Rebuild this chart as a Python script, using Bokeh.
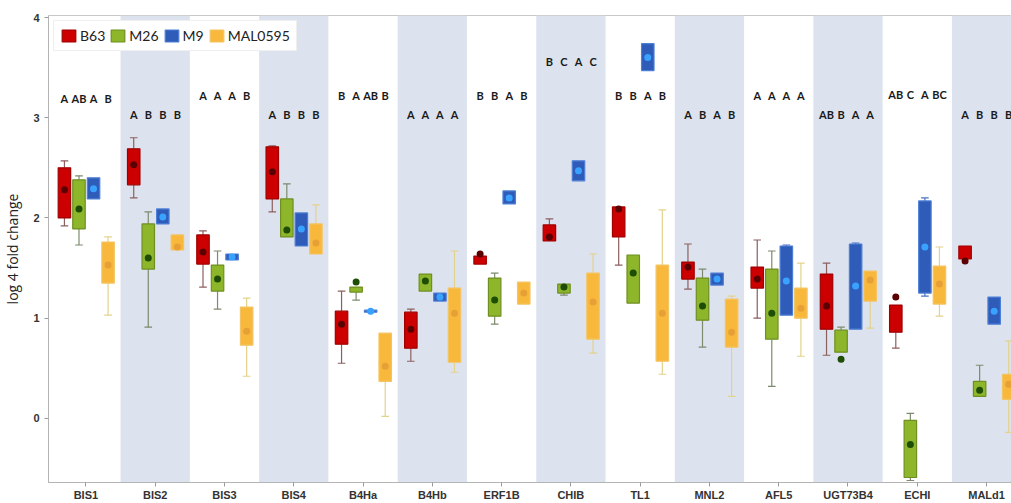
import numpy as np
from bokeh.plotting import figure
from bokeh.models import ColumnDataSource, FixedTicker, BoxAnnotation, Legend, LegendItem, Range1d
from bokeh.core.properties import value
from bokeh.embed import file_html
from bokeh.resources import INLINE

genes = ["BIS1", "BIS2", "BIS3", "BIS4", "B4Ha", "B4Hb", "ERF1B", "CHIB",
         "TL1", "MNL2", "AFL5", "UGT73B4", "ECHI", "MALd1"]
series = ["B63", "M26", "M9", "MAL0595"]

# columns: whisker low, box low, box high, whisker high, mean (one row per gene)
b63 = [[1.92, 2.00, 2.50, 2.57, 2.28], [2.20, 2.33, 2.69, 2.80, 2.53],
       [1.31, 1.54, 1.83, 1.87, 1.66], [2.06, 2.19, 2.71, 2.72, 2.46],
       [0.55, 0.74, 1.07, 1.27, 0.94], [0.57, 0.70, 1.06, 1.09, 0.89],
       [1.54, 1.54, 1.62, 1.62, 1.64], [1.77, 1.77, 1.93, 1.99, 1.81],
       [1.53, 1.81, 2.11, 2.11, 2.09], [1.29, 1.39, 1.56, 1.74, 1.51],
       [1.00, 1.30, 1.51, 1.78, 1.39], [0.63, 0.89, 1.44, 1.55, 1.12],
       [0.70, 0.86, 1.13, 1.13, 1.21], [1.59, 1.59, 1.72, 1.72, 1.57]]
m26 = [[1.73, 1.89, 2.38, 2.42, 2.09], [0.91, 1.49, 1.94, 2.06, 1.60],
       [1.09, 1.27, 1.53, 1.67, 1.39], [1.81, 1.81, 2.19, 2.34, 1.88],
       [1.18, 1.26, 1.31, 1.31, 1.36], [1.27, 1.27, 1.44, 1.44, 1.37],
       [0.94, 1.02, 1.40, 1.45, 1.18], [1.23, 1.25, 1.34, 1.34, 1.31],
       [1.15, 1.15, 1.63, 1.63, 1.45], [0.71, 0.98, 1.40, 1.49, 1.12],
       [0.32, 0.79, 1.49, 1.67, 1.05], [0.66, 0.66, 0.88, 0.91, 0.59],
       [-0.62, -0.59, -0.02, 0.05, -0.26], [0.22, 0.22, 0.37, 0.53, 0.28]]
m9 = [[2.19, 2.19, 2.40, 2.40, 2.29], [1.94, 1.94, 2.09, 2.09, 2.01],
      [1.58, 1.58, 1.64, 1.64, 1.61], [1.72, 1.72, 2.05, 2.05, 1.89],
      [1.06, 1.06, 1.08, 1.08, 1.07], [1.17, 1.17, 1.25, 1.25, 1.21],
      [2.14, 2.14, 2.27, 2.27, 2.20], [2.37, 2.37, 2.57, 2.57, 2.47],
      [3.47, 3.47, 3.74, 3.74, 3.60], [1.33, 1.33, 1.45, 1.45, 1.39],
      [1.03, 1.03, 1.72, 1.73, 1.37], [0.89, 0.89, 1.74, 1.75, 1.32],
      [1.22, 1.25, 2.17, 2.20, 1.71], [0.94, 0.94, 1.21, 1.21, 1.07]]
mal0595 = [[1.03, 1.35, 1.76, 1.81, 1.53], [1.68, 1.68, 1.83, 1.83, 1.71],
           [0.42, 0.73, 1.11, 1.20, 0.87], [1.64, 1.64, 1.94, 2.13, 1.75],
           [0.02, 0.37, 0.85, 0.85, 0.52], [0.46, 0.56, 1.30, 1.67, 1.05],
           [1.14, 1.14, 1.36, 1.36, 1.25], [0.65, 0.79, 1.45, 1.64, 1.16],
           [0.44, 0.57, 1.53, 2.08, 1.05], [0.22, 0.71, 1.19, 1.22, 0.86],
           [0.62, 1.00, 1.30, 1.55, 1.10], [0.90, 1.17, 1.47, 1.47, 1.38],
           [1.02, 1.14, 1.52, 1.71, 1.34], [-0.14, 0.19, 0.44, 0.77, 0.34]]

letters = [["A", "AB", "A", "B"], ["A", "B", "B", "B"], ["A", "A", "A", "B"],
           ["A", "B", "B", "B"], ["B", "A", "AB", "B"], ["A", "A", "A", "A"],
           ["B", "B", "A", "B"], ["B", "C", "A", "C"], ["B", "B", "A", "B"],
           ["A", "B", "A", "B"], ["A", "A", "A", "A"], ["AB", "B", "A", "A"],
           ["AB", "C", "A", "BC"], ["A", "B", "B", "B"]]
letter_y = [3.19, 3.03, 3.22, 3.03, 3.22, 3.03, 3.22, 3.56, 3.22, 3.03, 3.22, 3.03, 3.23, 3.03]

offsets = [-0.31, -0.10, 0.11, 0.32]
fills = ["#cc0000", "#8db62a", "#2f5cb8", "#f8b83c"]
edges = ["#a00000", "#6f8f22", "#4d7fd6", "#f3c463"]
dots = ["#5a0000", "#1e4d05", "#39a2ff", "#e7a035"]
whisk = ["#8c5f5f", "#7d8a6e", "#4a70c8", "#e3d28a"]
data = [b63, m26, m9, mal0595]

p = figure(width=1011, height=503, output_backend="svg", toolbar_location=None,
           x_range=Range1d(-0.04, 13.86), y_range=Range1d(-0.64, 4.02),
           min_border_left=45, min_border_right=0, min_border_top=15, min_border_bottom=0)
p.background_fill_color = "white"
p.border_fill_color = "white"
p.outline_line_color = "#c8c8c8"
p.grid.visible = False

for i in range(1, len(genes), 2):
    p.add_layout(BoxAnnotation(left=i, right=i + 1, fill_color="#dde3ee", fill_alpha=1.0,
                               line_color=None, level="underlay"))

xc = np.arange(len(genes)) + 0.5
box_w = 0.18
cap_w = 0.11
legend_items = []
for s, name in enumerate(series):
    arr = np.array(data[s])
    x = xc + offsets[s]
    wl, q1, q3, wh, mn = arr.T
    up = wh > q3 + 1e-9
    lo = wl < q1 - 1e-9
    p.segment(x[up], q3[up], x[up], wh[up], line_color=whisk[s], line_width=1.2)
    p.segment(x[up] - cap_w / 2, wh[up], x[up] + cap_w / 2, wh[up], line_color=whisk[s], line_width=1.2)
    p.segment(x[lo], wl[lo], x[lo], q1[lo], line_color=whisk[s], line_width=1.2)
    p.segment(x[lo] - cap_w / 2, wl[lo], x[lo] + cap_w / 2, wl[lo], line_color=whisk[s], line_width=1.2)
    src = ColumnDataSource(dict(x=x, q1=q1, q3=q3, mn=mn))
    r = p.vbar(x="x", bottom="q1", top="q3", width=box_w, source=src,
               fill_color=fills[s], line_color=edges[s], line_width=1.2)
    p.scatter(x="x", y="mn", source=src, size=7, fill_color=dots[s], line_color=None)
    legend_items.append(LegendItem(label=name, renderers=[r]))
    lsrc = ColumnDataSource(dict(x=x, y=letter_y, t=[l[s] for l in letters]))
    p.text(x="x", y="y", text="t", source=lsrc, text_align="center", text_baseline="middle",
           text_font=value("Lato"), text_font_style="bold", text_font_size="11px",
           text_color="#1a1a1a")

legend = Legend(items=legend_items, orientation="horizontal", location="top_left")
legend.margin = 5
legend.padding = 6
legend.spacing = 4
legend.glyph_width = 17
legend.glyph_height = 15
legend.label_standoff = 3
legend.label_text_font = "Lato"
legend.label_text_font_size = "14px"
legend.label_text_color = "#222222"
legend.border_line_color = "#e0e0e0"
legend.background_fill_color = "white"
legend.background_fill_alpha = 1.0
p.add_layout(legend)

p.yaxis.ticker = FixedTicker(ticks=[0, 1, 2, 3, 4])
p.yaxis.axis_label = "log 4 fold change"
p.yaxis.axis_label_text_font = "Open Sans"
p.yaxis.axis_label_text_font_style = "normal"
p.yaxis.axis_label_text_font_size = "14px"
p.yaxis.axis_label_text_color = "#222222"
p.yaxis.axis_label_standoff = 8
p.xaxis.ticker = FixedTicker(ticks=list(xc))
p.xaxis.major_label_overrides = {float(v): g for v, g in zip(xc, genes)}
for ax in (p.xaxis, p.yaxis):
    ax.axis_line_color = "#b4b4b4"
    ax.major_tick_line_color = "#9a9a9a"
    ax.major_tick_out = 4
    ax.major_tick_in = 0
    ax.minor_tick_line_color = None
    ax.major_label_text_font = "Liberation Sans"
    ax.major_label_text_font_size = "11px"
    ax.major_label_text_color = "#333333"
p.yaxis.major_label_text_font_style = "bold"
p.xaxis.major_label_text_font_style = "bold"
p.xaxis.major_label_standoff = 2
p.yaxis.major_label_standoff = 5

open("out.html", "w").write(file_html(p, INLINE))
